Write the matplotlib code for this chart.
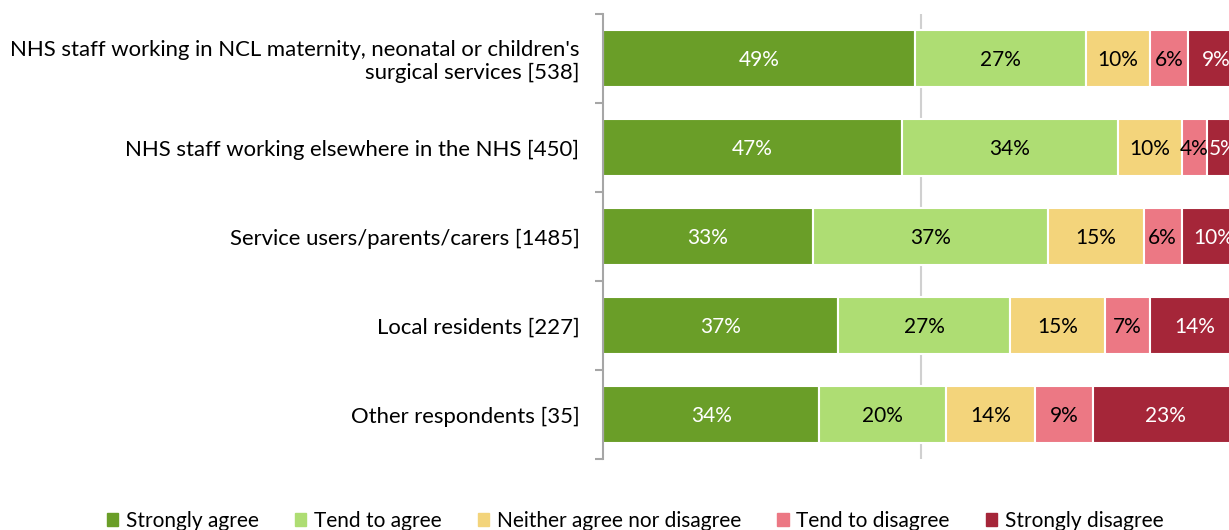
import numpy as np
import matplotlib.pyplot as plt
from matplotlib.patches import Rectangle

plt.rcParams['font.family'] = ['Lato', 'DejaVu Sans']

groups = ["NHS staff working in NCL maternity, neonatal or children's\nsurgical services [538]",
          "NHS staff working elsewhere in the NHS [450]",
          "Service users/parents/carers [1485]",
          "Local residents [227]",
          "Other respondents [35]"]
responses = ["Strongly agree", "Tend to agree", "Neither agree nor disagree",
             "Tend to disagree", "Strongly disagree"]

strongly_agree = [49, 47, 33, 37, 34]
tend_agree = [27, 34, 37, 27, 20]
neither = [10, 10, 15, 15, 14]
tend_disagree = [6, 4, 6, 7, 9]
strongly_disagree = [9, 5, 10, 14, 23]

colors = ['#6a9e28', '#aedd73', '#f3d47b', '#ec7884', '#a52639']
text_colors = ['white', 'black', 'black', 'black', 'white']

fig = plt.figure(figsize=(12.29, 5.30), dpi=100)
ax = fig.add_axes([603/1229, 1-459/530, (1239-603)/1229, (459-14)/530])

y = np.arange(len(groups))
left = np.zeros(len(groups))
series = [strongly_agree, tend_agree, neither, tend_disagree, strongly_disagree]
for vals, col, tc in zip(series, colors, text_colors):
    vals = np.array(vals, dtype=float)
    bars = ax.barh(y, vals, left=left, height=0.64, color=col,
                   edgecolor='white', linewidth=1.5, zorder=2)
    for b, v in zip(bars, vals):
        ax.text(b.get_x() + b.get_width()/2, b.get_y() + b.get_height()/2 + 0.02,
                f"{v:.0f}%", ha='center', va='center', color=tc,
                fontsize=15, zorder=3)
    left += vals

ax.set_xlim(0, 100)
ax.set_ylim(len(groups) - 0.5, -0.5)
ax.axvline(50, color='#d0d0d0', linewidth=1.5, zorder=1)

for s in ['top', 'right', 'bottom']:
    ax.spines[s].set_visible(False)
ax.spines['left'].set_color('#a6a6a6')
ax.spines['left'].set_linewidth(1.5)

ax.set_xticks([])
ax.set_yticks(np.arange(-0.5, len(groups)))
ax.set_yticklabels([])
ax.tick_params(axis='y', which='major', length=6, width=1.5, color='#a6a6a6')
ax.set_yticks(y, minor=True)
ax.set_yticklabels(groups, minor=True, fontsize=15.9, ha='right', linespacing=1.12)
ax.tick_params(axis='y', which='minor', length=0, pad=17)

handles = [Rectangle((0, 0), 1, 1, color=c) for c in colors]
fig.legend(handles, responses, loc='center', bbox_to_anchor=(635/1229, 1-521/530),
           ncol=5, frameon=False, fontsize=15, handlelength=0.55, handleheight=0.55,
           handletextpad=0.35, columnspacing=1.75)

fig.savefig('out.png', dpi=100)
